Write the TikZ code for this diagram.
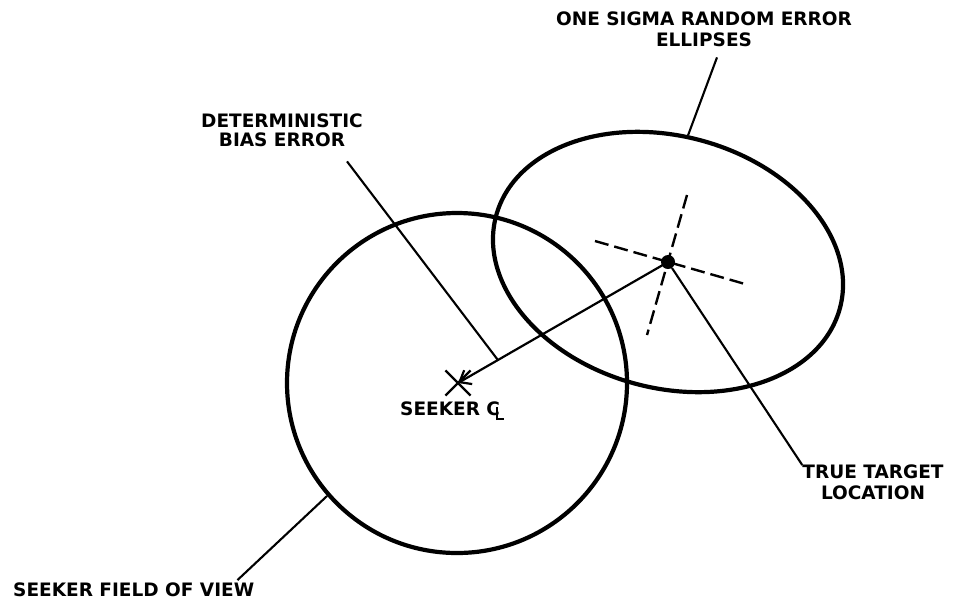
\documentclass[tikz,border=0pt]{standalone}
\usepackage{fontspec}
\setmainfont{DejaVu Sans}
\usetikzlibrary{arrows.meta,calc,shapes.geometric,shapes.misc}
\newcommand{\centreline}{C\kern-4.5pt\rule[-5pt]{2pt}{13pt}\rule[-5pt]{6.5pt}{2pt}}

\begin{document}
\begin{tikzpicture}[x=1pt, y=-1pt,
  outline/.style={draw, line width=4.2pt, inner sep=0pt},
  leader/.style={line width=2.1pt},
  bias/.style={line width=2.2pt,
    -{Straight Barb[length=10pt, width=16pt, line width=2.2pt]}},
  axisline/.style={line width=2.4pt, dash pattern=on 14pt off 6pt},
  lbl/.style={inner sep=0pt, align=center,
    font=\fontsize{18.5}{21}\selectfont\bfseries}
]
\useasboundingbox (0,0) rectangle (957,606);
\node[outline, circle, minimum size=340pt] (fov) at (457,383) {};
\node[outline, ellipse, minimum width=356pt, minimum height=252pt,
      rotate=-15] (ell) at (668,262) {};
\node[circle, fill, inner sep=0pt, minimum size=14pt] (tgt) at (668,262) {};
\node[draw, cross out, line width=2.2pt, inner sep=0pt,
      minimum size=23pt] (cl) at (458,383) {};
\draw[axisline] ($(tgt)+(-73,-21)$) -- ($(tgt)+(77,22)$);
\draw[axisline] ($(tgt)+(19,-67)$) -- ($(tgt)+(-21,73)$);
\draw[bias] (tgt.center) -- (cl.center);
\path (tgt.center) -- (cl.center) coordinate[pos=0.81] (biaspt);

\node[lbl, anchor=north] (lblsigma) at (704,12)
  {ONE SIGMA RANDOM ERROR\\ELLIPSES};
\node[lbl, anchor=north, font=\fontsize{18.5}{19}\selectfont\bfseries]
  (lblbias) at (282,114) {DETERMINISTIC\\BIAS ERROR};
\node[lbl, anchor=north] (lbltrue) at (873,465)
  {TRUE TARGET\\LOCATION};
\node[lbl, anchor=base west] (lblfov) at (13,596) {SEEKER FIELD OF VIEW};
\node[lbl, anchor=base west] (lblcl) at (400,415) {SEEKER \centreline};

\draw[leader] ($(lblsigma.south)+(13,10)$) -- (ell.96);
\draw[leader] ($(lblbias.south)+(65,14)$) -- (biaspt);
\draw[leader] (tgt) -- (lbltrue.north west);
\draw[leader] ($(lblfov.north east)+(-17,-2)$) -- (fov.221);
\end{tikzpicture}
\end{document}
